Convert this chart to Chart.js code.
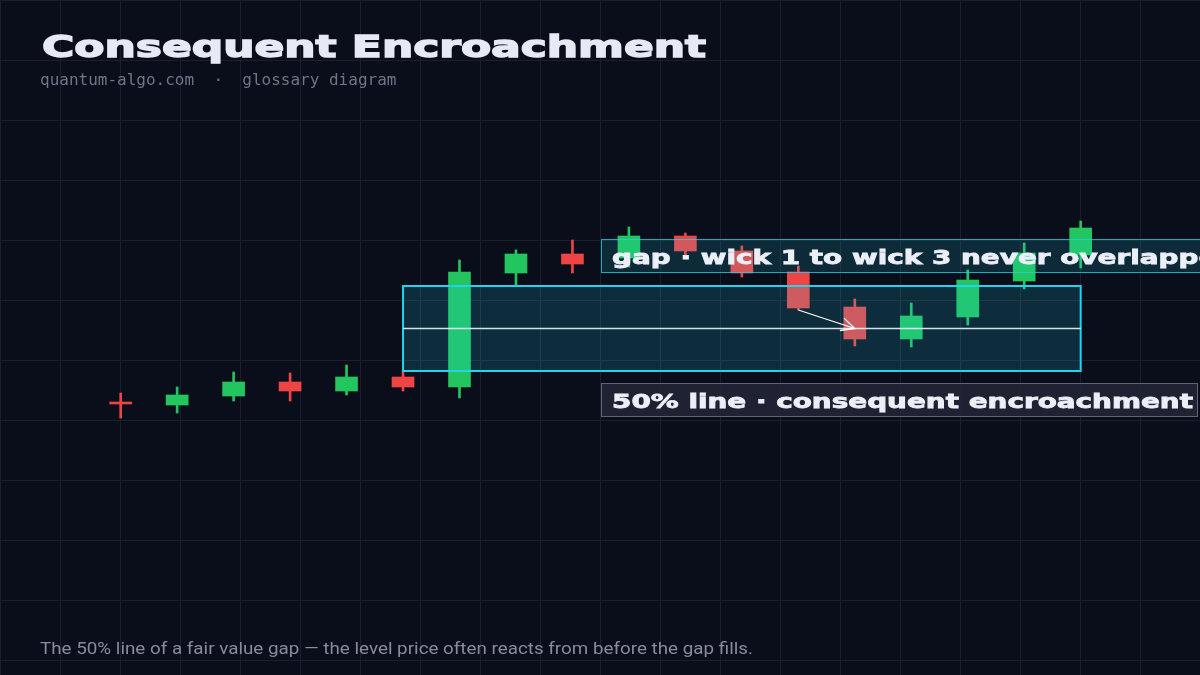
<!DOCTYPE html>
<html>
<head>
<meta charset="utf-8">
<script src="https://cdn.jsdelivr.net/npm/chart.js@4.4.1/dist/chart.umd.min.js"></script>
<style>
html, body { margin: 0; padding: 0; }
body {
  width: 1200px; height: 675px; overflow: hidden; position: relative;
  background-color: #0a0e1b;
  background-image:
    linear-gradient(to right, #1a1f2d 1px, transparent 1px),
    linear-gradient(to bottom, #1a1f2d 1px, transparent 1px);
  background-size: 60px 60px;
}
#chart { position: absolute; left: 0; top: 0; }
#title {
  position: absolute; left: 42px; top: 32px; margin: 0;
  font: bold 30px/30px "DejaVu Sans", sans-serif; color: #e7e9f6;
  -webkit-text-stroke: 1.4px #e7e9f6;
  white-space: nowrap; transform-origin: 0 0;
}
#sub {
  position: absolute; left: 40px; top: 72px;
  font: 16px/16px "DejaVu Sans Mono", monospace; color: #6f7587;
  white-space: pre;
}
#foot {
  position: absolute; left: 40px; top: 640px; margin: 0;
  font: 17px/17px Roboto, sans-serif; color: #868c9e;
  white-space: nowrap; transform-origin: 0 0;
}
.tag {
  position: absolute; height: 34px; box-sizing: border-box;
  padding: 2px 0 0 10px; white-space: nowrap;
  font: bold 19px/30px "DejaVu Sans", sans-serif; color: #eceff8;
  -webkit-text-stroke: 0.8px #eceff8;
}
.tag span { display: inline-block; transform-origin: 0 50%; }
#tagGap { background: rgba(34, 211, 238, 0.14); border: 1px solid rgba(34, 211, 238, 0.75); }
#tagMid { background: rgba(35, 38, 54, 0.85); border: 1px solid rgba(160, 166, 185, 0.5); }
</style>
</head>
<body>
<canvas id="chart" width="1200" height="675"></canvas>
<h1 id="title">Consequent Encroachment</h1>
<div id="sub">quantum-algo.com  ·  glossary diagram</div>
<div class="tag" id="tagGap"><span>gap · wick 1 to wick 3 never overlapped</span></div>
<div class="tag" id="tagMid"><span>50% line · consequent encroachment</span></div>
<p id="foot">The 50% line of a fair value gap — the level price often reacts from before the gap fills.</p>

<script>
// candle data (price units)
const candleIndex = [1, 2, 3, 4, 5, 6, 7, 8, 9, 10, 11, 12, 13, 14, 15, 16, 17, 18];
const opens  = [54.2, 54.0, 55.8, 58.6, 56.8, 59.6, 57.6, 80.4, 84.2, 83.4, 87.8, 84.8, 80.6, 73.6, 67.2, 71.6, 78.8, 84.0];
const highs  = [56.4, 57.6, 60.6, 60.4, 62.0, 60.8, 83.0, 85.0, 87.0, 89.6, 88.4, 85.8, 81.8, 75.2, 74.4, 81.0, 86.4, 90.8];
const lows   = [51.4, 52.4, 54.8, 54.8, 56.0, 56.8, 55.4, 77.8, 80.4, 81.6, 83.4, 79.6, 73.0, 65.8, 65.6, 70.0, 77.2, 81.4];
const closes = [54.2, 56.0, 58.6, 56.8, 59.6, 57.6, 80.6, 84.2, 82.2, 87.8, 84.8, 80.4, 73.4, 67.2, 71.8, 79.0, 84.4, 89.4];

// fair value gap: candle 6 high up to candle 8 low, drawn out to the last candle
const gapTop = lows[7];
const gapBottom = highs[5];
const gapMid = (gapTop + gapBottom) / 2;
const gapFrom = 6, gapTo = 18;

const upColor = '#22c55e';
const downColor = '#ef4444';
const colors = candleIndex.map((x, i) => closes[i] > opens[i] ? upColor : downColor);

const gapPlugin = {
  id: 'gap',
  afterDatasetsDraw(chart) {
    const { ctx, scales: { x, y } } = chart;
    const x0 = x.getPixelForValue(gapFrom), x1 = x.getPixelForValue(gapTo);
    const yt = y.getPixelForValue(gapTop), yb = y.getPixelForValue(gapBottom);
    const ym = y.getPixelForValue(gapMid);

    ctx.save();
    ctx.fillStyle = 'rgba(34, 211, 238, 0.16)';
    ctx.fillRect(x0, yt, x1 - x0, yb - yt);
    ctx.strokeStyle = '#22d3ee';
    ctx.lineWidth = 2;
    ctx.strokeRect(x0, yt, x1 - x0, yb - yt);

    ctx.strokeStyle = 'rgba(232, 248, 252, 0.9)';
    ctx.lineWidth = 1.5;
    ctx.beginPath();
    ctx.moveTo(x0, ym);
    ctx.lineTo(x1, ym);
    ctx.stroke();

    // arrow: candle 13 low -> 50% line at candle 14
    const ax = x.getPixelForValue(13), ay = y.getPixelForValue(lows[12]);
    const bx = x.getPixelForValue(14), by = ym;
    const ang = Math.atan2(by - ay, bx - ax);
    ctx.strokeStyle = '#ffffff';
    ctx.lineWidth = 1.3;
    ctx.beginPath();
    ctx.moveTo(ax, ay);
    ctx.lineTo(bx, by);
    ctx.moveTo(bx - 15 * Math.cos(ang - 0.45), by - 15 * Math.sin(ang - 0.45));
    ctx.lineTo(bx, by);
    ctx.lineTo(bx - 15 * Math.cos(ang + 0.45), by - 15 * Math.sin(ang + 0.45));
    ctx.stroke();
    ctx.restore();
  }
};

const chart = new Chart(document.getElementById('chart'), {
  type: 'bar',
  data: {
    datasets: [
      {
        label: 'body',
        data: candleIndex.map((x, i) => ({ x: x, y: [opens[i], closes[i]] })),
        backgroundColor: colors,
        barThickness: 22,
        minBarLength: 2,
        grouped: false
      },
      {
        label: 'wick',
        data: candleIndex.map((x, i) => ({ x: x, y: [lows[i], highs[i]] })),
        backgroundColor: colors,
        barThickness: 2,
        grouped: false
      }
    ]
  },
  options: {
    responsive: false,
    animation: false,
    devicePixelRatio: 1,
    layout: { padding: 0 },
    plugins: { legend: { display: false }, tooltip: { enabled: false } },
    scales: {
      x: { type: 'linear', min: -1.137, max: 20.113, offset: false, display: false },
      y: { min: 0, max: 135, display: false }
    }
  },
  plugins: [gapPlugin]
});

// stretch a text element to a given width (wide display font is not installed)
function fit(el, width) {
  const w = el.getBoundingClientRect().width;
  el.style.transform = 'scaleX(' + (width / w) + ')';
  return width / w;
}

fit(document.getElementById('title'), 664);
fit(document.getElementById('foot'), 713);

// annotation tags
const tagX = 9.5;
const tags = [['tagGap', 83.8], ['tagMid', 55.0]];
const midSpan = document.querySelector('#tagMid span');
const k = 581 / midSpan.getBoundingClientRect().width;

tags.forEach(([id, price]) => {
  const el = document.getElementById(id);
  const span = el.querySelector('span');
  const w = span.getBoundingClientRect().width * k;
  span.style.transform = 'scaleX(' + k + ')';
  el.style.left = chart.scales.x.getPixelForValue(tagX) + 'px';
  el.style.top = (chart.scales.y.getPixelForValue(price) - 17) + 'px';
  el.style.width = (w + 16) + 'px';
});
</script>
</body>
</html>
